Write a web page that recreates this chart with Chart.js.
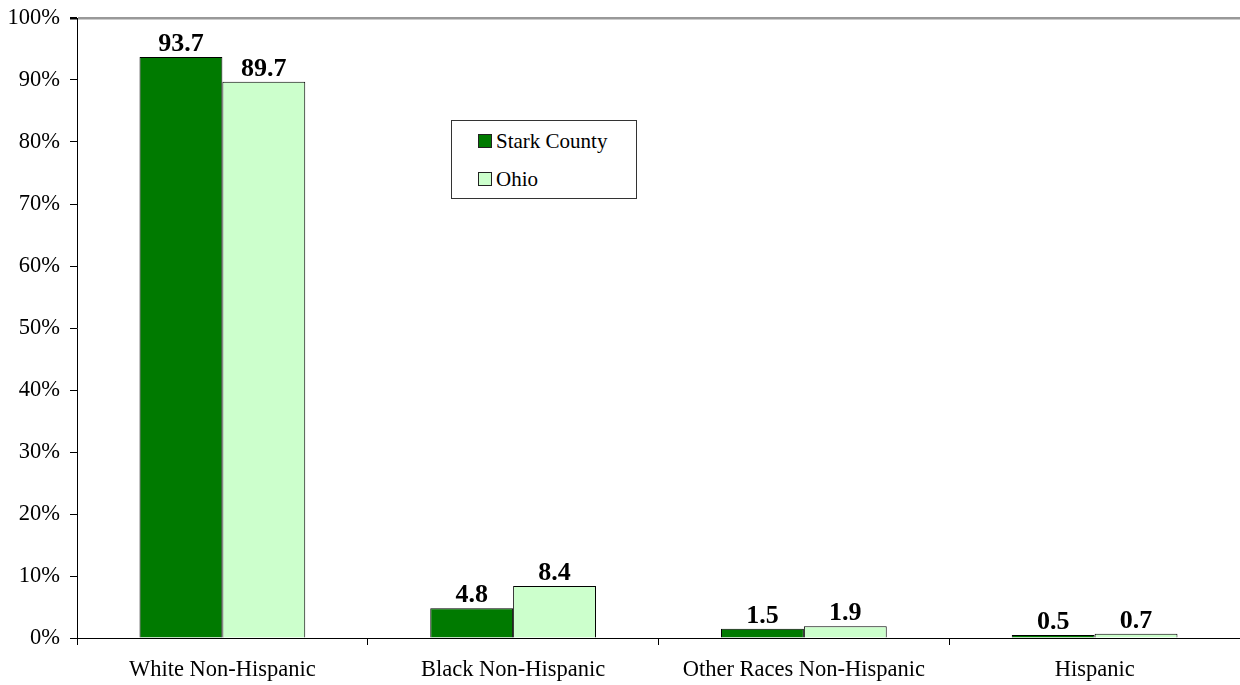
<!DOCTYPE html>
<html>
<head>
<meta charset="utf-8">
<script src="https://cdn.jsdelivr.net/npm/chart.js@4/dist/chart.umd.min.js"></script>
<style>
    html, body { margin: 0; padding: 0; background: #fff; }
    #wrap { position: relative; width: 1240px; height: 685px; overflow: hidden; }
    #legend {
        position: absolute; left: 451px; top: 120px; width: 184px; height: 77px;
        border: 1px solid #333; background: #fff;
        font-family: "Liberation Serif", "Times New Roman", serif; font-size: 21px; color: #000;
    }
    .item { position: absolute; left: 26px; display: flex; align-items: center; line-height: 24px; }
    .sw { width: 12px; height: 12px; border: 1px solid #222; margin-right: 4px; }
</style>
</head>
<body>
<div id="wrap">
    <canvas id="chart" width="1240" height="685"></canvas>
    <div id="legend">
        <div class="item" style="top:8px"><span class="sw" style="background:#007A00"></span>Stark County</div>
        <div class="item" style="top:46px"><span class="sw" style="background:#CCFFCC"></span>Ohio</div>
    </div>
</div>
<script>
// Race / ethnicity shares (percent)
const categories = ['White Non-Hispanic', 'Black Non-Hispanic', 'Other Races Non-Hispanic', 'Hispanic'];
const starkValues = [93.7, 4.8, 1.5, 0.5];
const ohioValues = [89.7, 8.4, 1.9, 0.7];
const yTicks = [0, 10, 20, 30, 40, 50, 60, 70, 80, 90, 100];

const serif = '"Liberation Serif", "Times New Roman", serif';

// Draw the bold value above each bar
const valueLabels = {
    id: 'valueLabels',
    afterDatasetsDraw(chart) {
        const ctx = chart.ctx;
        ctx.save();
        ctx.font = 'bold 26px ' + serif;
        ctx.fillStyle = '#000';
        ctx.textAlign = 'center';
        ctx.textBaseline = 'alphabetic';
        chart.data.datasets.forEach((ds, i) => {
            chart.getDatasetMeta(i).data.forEach((bar, j) => {
                ctx.fillText(ds.data[j].toFixed(1), bar.x, bar.y - 6);
            });
        });
        ctx.restore();
    }
};

new Chart(document.getElementById('chart').getContext('2d'), {
    type: 'bar',
    data: {
        labels: categories,
        datasets: [{
            label: 'Stark County',
            data: starkValues,
            backgroundColor: '#007A00',
            borderColor: '#000',
            borderWidth: 1,
            barPercentage: 1,
            categoryPercentage: 0.57
        }, {
            label: 'Ohio',
            data: ohioValues,
            backgroundColor: '#CCFFCC',
            borderColor: '#000',
            borderWidth: 1,
            barPercentage: 1,
            categoryPercentage: 0.57
        }]
    },
    options: {
        responsive: false,
        animation: false,
        layout: { padding: { top: 18, right: -1, left: 0, bottom: 0 } },
        plugins: {
            legend: { display: false },
            tooltip: { enabled: false }
        },
        scales: {
            x: {
                afterFit: (s) => { s.height = 47; s.paddingLeft = 0; s.paddingRight = 0; },
                border: { color: '#000', width: 1 },
                grid: { offset: true, drawOnChartArea: false, tickLength: 7, color: '#000' },
                ticks: { color: '#000', font: { family: serif, size: 22.5 }, padding: 12 }
            },
            y: {
                min: 0,
                max: 100,
                afterFit: (s) => { s.width = 77; s.paddingTop = 0; s.paddingBottom = 0; },
                afterBuildTicks: (s) => { s.ticks = yTicks.map(v => ({ value: v })); },
                border: { color: '#000', width: 1 },
                grid: {
                    color: (c) => c.tick && c.tick.value === 100 ? '#999' : 'rgba(0,0,0,0)',
                    lineWidth: (c) => c.tick && c.tick.value === 100 ? 2.5 : 1,
                    tickColor: '#000',
                    tickLength: 7
                },
                ticks: {
                    color: '#000',
                    font: { family: serif, size: 22.5 },
                    padding: 10,
                    callback: (v) => v + '%'
                }
            }
        }
    },
    plugins: [valueLabels]
});
</script>
</body>
</html>
